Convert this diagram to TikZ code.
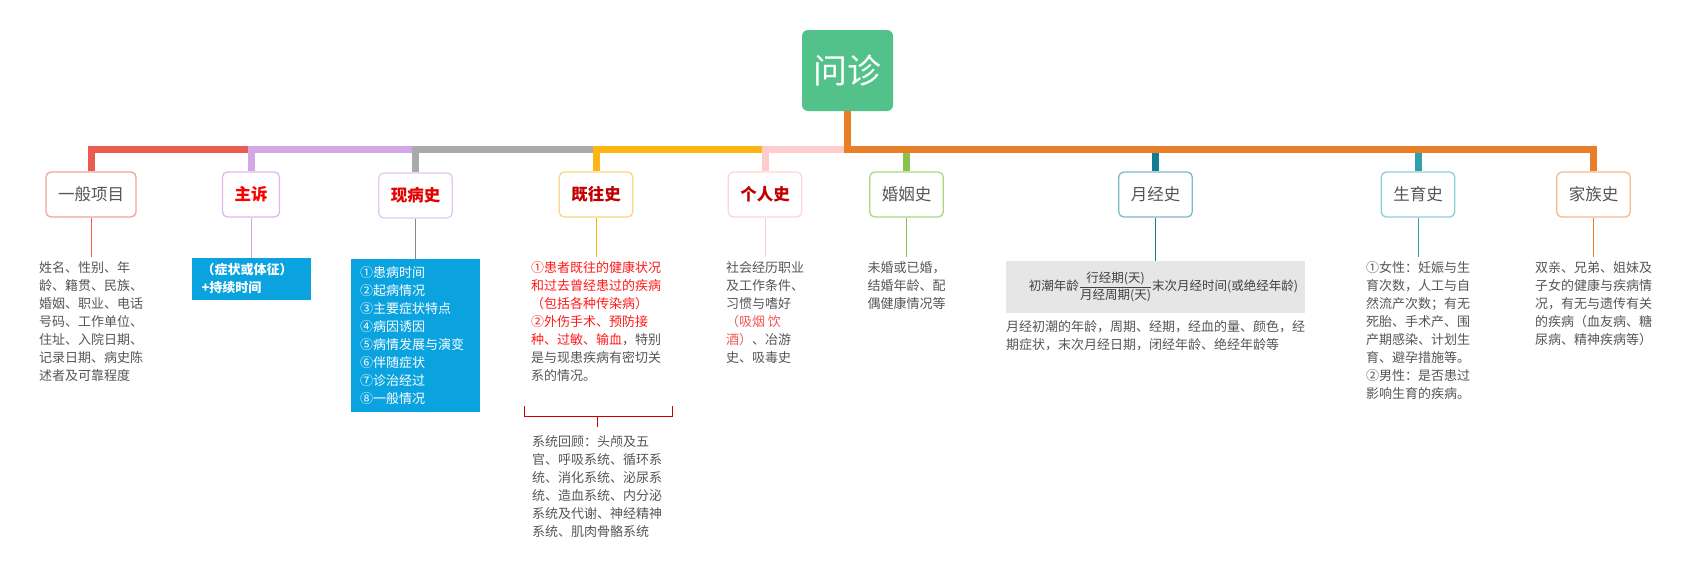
\documentclass[tikz,border=0pt]{standalone}
\usepackage{amsmath}
\usepackage{fontspec}
\setmainfont{Noto Sans CJK SC}
\usetikzlibrary{positioning}

\definecolor{rootgreen}{HTML}{52C28A}
\definecolor{textgrey}{HTML}{555555}
\definecolor{hiblue}{HTML}{0AA3E0}
\definecolor{hired}{HTML}{FF1A1A}
\definecolor{softred}{HTML}{F05555}
\definecolor{darkred}{HTML}{C00000}
\definecolor{gencol}{HTML}{E85D50}
\definecolor{genbd}{HTML}{F0A49C}
\definecolor{cccol}{HTML}{D3A6E6}
\definecolor{ccbd}{HTML}{DDB8F0}
\definecolor{hpicol}{HTML}{AAAAAA}
\definecolor{hpibd}{HTML}{E2C8F2}
\definecolor{pastcol}{HTML}{FDB515}
\definecolor{pastbd}{HTML}{FCD57E}
\definecolor{perscol}{HTML}{FFCCCC}
\definecolor{persbd}{HTML}{FFD6D6}
\definecolor{orangec}{HTML}{E87E28}
\definecolor{fambd}{HTML}{F6B98C}
\definecolor{marcol}{HTML}{8BC34A}
\definecolor{marbd}{HTML}{A9D77E}
\definecolor{menscol}{HTML}{137C90}
\definecolor{mensbd}{HTML}{7DB9C9}
\definecolor{birthcol}{HTML}{32A0A8}
\definecolor{birthbd}{HTML}{8FCED4}
\definecolor{imggrey}{HTML}{E6E6E6}

\begin{document}
\begin{tikzpicture}[x=1pt, y=-1pt,
  font=\fontsize{13}{18}\selectfont,
  % central topic
  topic/.style={rectangle, rounded corners=6pt, fill=rootgreen, text=white, minimum width=91pt, minimum height=81pt, font=\fontsize{34}{40}\selectfont},
  % first level boxes
  branch/.style={rectangle, rounded corners=5pt, draw=#1, line width=1.3pt, fill=white, minimum height=45pt, inner xsep=12pt, inner ysep=0pt, text=textgrey, font=\fontsize{16.5}{20}\selectfont},
  % text under a box
  detail/.style={align=left, inner xsep=0pt, inner ysep=5pt, text=textgrey},
  % filled blue note
  bluebox/.style={rectangle, fill=hiblue, text=white, align=left, inner xsep=10pt, inner ysep=0pt},
  bar/.style={line width=7pt, draw=#1},
  twig/.style={line width=1pt, draw=#1}
]
\useasboundingbox (0,0) rectangle (1696,576);

% ---- Central topic and hub ----
\node[topic] (root) at (847.5,70.5) {问诊};
\coordinate (hub) at (847.5,149.5);

% ---- First level (left of hub) ----
\node[branch=genbd] (gen) at (91,194.5) {一般项目};
\node[branch=ccbd, text=red, font=\fontsize{16.5}{20}\selectfont\bfseries] (cc) at (251,194.5) {主诉};
\node[branch=hpibd, text=red!90!black, font=\fontsize{16.5}{20}\selectfont\bfseries] (hpi) at (415.5,195.5) {现病史};
\node[branch=pastbd, text=darkred, font=\fontsize{16.5}{20}\selectfont\bfseries] (past) at (596,194.5) {既往史};
\node[branch=persbd, text=darkred, font=\fontsize{16.5}{20}\selectfont\bfseries] (pers) at (765,194.5) {个人史};

% ---- First level (right of hub) ----
\node[branch=marbd] (marr) at (906.5,194.5) {婚姻史};
\node[branch=mensbd] (mens) at (1155.5,194.5) {月经史};
\node[branch=birthbd] (birth) at (1418,194.5) {生育史};
\node[branch=fambd] (fam) at (1593.5,194.5) {家族史};

% ---- Details ----
\node[detail, below=39pt of gen] (genD) {姓名、性别、年\\龄、籍贯、民族、\\婚姻、职业、电话\\号码、工作单位、\\住址、入院日期、\\记录日期、病史陈\\述者及可靠程度};
\node[bluebox, below=40pt of cc, text width=99pt, minimum height=42pt, font=\fontsize{13}{18}\selectfont\bfseries] (ccD) {（症状或体征）\\+持续时间};
\node[bluebox, below=40pt of hpi, text width=111pt, inner xsep=9pt, minimum height=153pt] (hpiD) {①患病时间\\②起病情况\\③主要症状特点\\④病因诱因\\⑤病情发展与演变\\⑥伴随症状\\⑦诊治经过\\⑧一般情况};
\node[detail, below=39pt of past] (pastD) {\textcolor{hired}{①患者既往的健康状况}\\\textcolor{hired}{和过去曾经患过的疾病}\\\textcolor{hired}{（包括各种传染病）}\\\textcolor{hired}{②外伤手术、预防接}\\\textcolor{hired}{种、过敏、输血}，特别\\是与现患疾病有密切关\\系的情况。};
\node[detail, below=39pt of pers] (persD) {社会经历职业\\及工作条件、\\习惯与嗜好\\\textcolor{softred}{（吸烟 饮}\\\textcolor{softred}{酒）}、冶游\\史、吸毒史};
\node[detail, below=39pt of marr] (marrD) {未婚或已婚，\\结婚年龄、配\\偶健康情况等};
\node[below=43pt of mens, fill=imggrey, minimum width=299pt, minimum height=52pt, inner sep=0pt, text=black!75, font=\fontsize{12.5}{15}\selectfont] (mensImg) {\hspace*{16pt}初潮年龄$\dfrac{\text{行经期(天)}}{\text{月经周期(天)}}$末次月经时间(或绝经年龄)};
\node[detail, below=2pt of mensImg] (mensD) {月经初潮的年龄，周期、经期，经血的量、颜色，经\\期症状，末次月经日期，闭经年龄、绝经年龄等};
\node[detail, below=39pt of birth] (birthD) {①女性：妊娠与生\\育次数，人工与自\\然流产次数；有无\\死胎、手术产、围\\产期感染、计划生\\育、避孕措施等。\\②男性：是否患过\\影响生育的疾病。};
\node[detail, below=39pt of fam] (famD) {双亲、兄弟、姐妹及\\子女的健康与疾病情\\况，有无与遗传有关\\的疾病（血友病、糖\\尿病、精神疾病等）};

% ---- Summary bracket under past history ----
\coordinate (brkL) at (524,406);
\coordinate (brkR) at (672,406);
\coordinate (brk) at (597,416);
\node[detail, below=11pt of brk, inner ysep=8pt] (sysD) {系统回顾：头颅及五\\官、呼吸系统、循环系\\统、消化系统、泌尿系\\统、造血系统、内分泌\\系统及代谢、神经精神\\系统、肌肉骨骼系统};

% ---- Bars ----
\draw[bar=marcol] (marr) -- (marr |- hub);
\draw[bar=menscol] (mens) -- (mens |- hub);
\draw[bar=birthcol] (birth) -- (birth |- hub);
\draw[bar=gencol] (gen) |- (cc |- hub);
\draw[bar=cccol] (cc) |- (hpi |- hub);
\draw[bar=hpicol] (hpi) |- (past |- hub);
\draw[bar=pastcol] (past) |- (pers |- hub);
\draw[bar=perscol] (pers) |- (hub);
\draw[bar=orangec] (root) -- (hub) -| (fam);

% ---- Thin links ----
\draw[twig=gencol] (gen) -- (genD);
\draw[twig=cccol] (cc) -- (ccD);
\draw[twig=hpicol!80!black] (hpi) -- (hpiD);
\draw[twig=pastcol] (past) -- (pastD);
\draw[twig=perscol] (pers) -- (persD);
\draw[twig=marcol] (marr) -- (marrD);
\draw[twig=menscol] (mens) -- (mensImg);
\draw[twig=birthcol] (birth) -- (birthD);
\draw[twig=orangec] (fam) -- (famD);
\draw[twig=red!80!black] (brkL) |- (brkR |- brk) -- (brkR);
\draw[twig=red!80!black] (brk) -- (sysD);

\end{tikzpicture}
\end{document}
